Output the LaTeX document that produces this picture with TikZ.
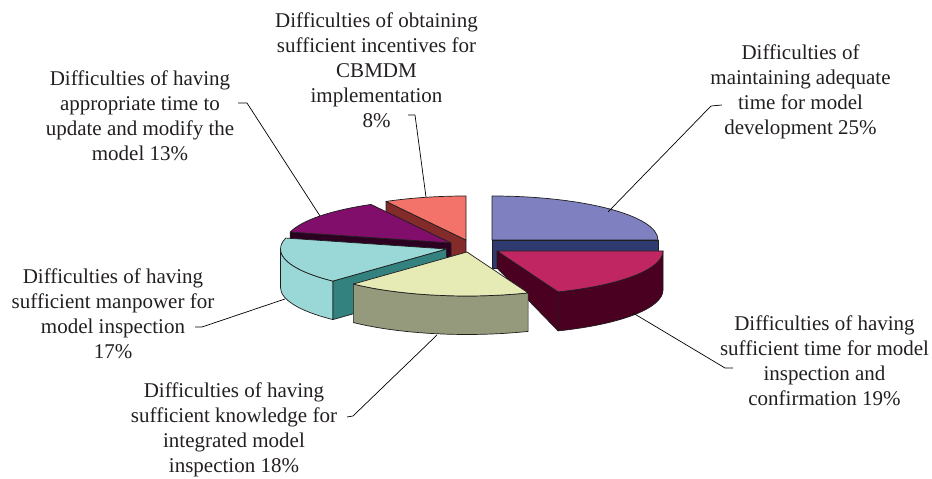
\documentclass[tikz,border=0pt]{standalone}
\usepackage{fontspec}
\setmainfont{Liberation Serif}
\definecolor{blueTop}{HTML}{7F80BF}
\definecolor{blueSide}{HTML}{2F3B70}
\definecolor{crimTop}{HTML}{BF2662}
\definecolor{crimSide}{HTML}{4A0020}
\definecolor{yelTop}{HTML}{E6EBB5}
\definecolor{yelSide}{HTML}{959A7C}
\definecolor{cyanTop}{HTML}{9AD7D7}
\definecolor{cyanSide}{HTML}{348280}
\definecolor{purTop}{HTML}{800E6A}
\definecolor{purSide}{HTML}{2C0020}
\definecolor{salTop}{HTML}{F3726A}
\definecolor{salSide}{HTML}{832A2B}
\definecolor{edgecol}{HTML}{1E1E1E}
\definecolor{txt}{HTML}{231F20}
\begin{document}
\begin{tikzpicture}[x=1pt,y=1pt,
  face/.style={draw=edgecol,line width=0.7pt,line join=round},
  er/.style={x radius=166pt,y radius=44pt},
  lbl/.style={align=center,font=\fontsize{21}{25}\selectfont,text=txt,inner sep=0pt},
  leader/.style={draw=black,line width=0.7pt}]
\useasboundingbox (0,0) rectangle (932,479);

% ---- blue 25% (back right)
\fill[blueSide,face] (492,239) rectangle (658,211);
\fill[blueTop,face] (492,239) -- (492,283) arc[er,start angle=90,end angle=0] -- cycle;

% ---- salmon 8%
\fill[salSide,face] (386.02,277.56) -- (466,239) -- (466,200) -- (386.02,238.56) -- cycle;
\fill[salTop,face] (466,239) -- (466,283) arc[er,start angle=90,end angle=118.8] -- cycle;

% ---- purple 13%
\fill[purSide,face] (451,236) -- (290.2,246.94) -- (290.2,207.94) -- (451,197) -- cycle;
\fill[purTop,face] (451,236) -- (371.02,274.56) arc[er,start angle=118.8,end angle=165.6] -- cycle;

% ---- cyan 17%
\fill[cyanTop,face] (280.5,230) arc[er,start angle=180,end angle=226.8] -- ++(0,-38.5) arc[er,start angle=226.8,end angle=180] -- cycle;
\fill[cyanSide,face] (446.5,230) -- (332.9,197.92) -- (332.9,159.42) -- (446.5,191.5) -- cycle;
\fill[cyanTop,face] (446.5,230) -- (285.7,240.94) arc[er,start angle=165.6,end angle=226.8] -- cycle;

% ---- crimson 19%
\fill[crimSide,face] (663,228) arc[er,start angle=0,end angle=-68.4] -- ++(0,-39) arc[er,start angle=-68.4,end angle=0] -- cycle;
\fill[crimSide,face] (497,228) -- (558.1,187.1) -- (558.1,148.1) -- (497,211) -- cycle;
\fill[crimTop,face] (497,228) -- (663,228) arc[er,start angle=0,end angle=-68.4] -- cycle;

% ---- yellow 18%
\fill[yelSide,face] (528.1,186.1) arc[er,start angle=-68.4,end angle=-133.2] -- ++(0,-38.5) arc[er,start angle=-133.2,end angle=-68.4] -- cycle;
\fill[yelTop,face] (467,227) -- (528.1,186.1) arc[er,start angle=-68.4,end angle=-133.2] -- cycle;

% ---- labels
\node[lbl] (lObt) at (376.5,409) {Difficulties of obtaining\\sufficient incentives for\\CBMDM\\implementation\\8\%};
\node[lbl] (lApp) at (140,363.5) {Difficulties of having\\appropriate time to\\update and modify the\\model 13\%};
\node[lbl] (lMai) at (800.5,387) {Difficulties of\\maintaining adequate\\time for model\\development 25\%};
\node[lbl] (lTim) at (824.5,118) {Difficulties of having\\sufficient time for model\\inspection and\\confirmation 19\%};
\node[lbl] (lMan) at (113,165.5) {Difficulties of having\\sufficient manpower for\\model inspection\\17\%};
\node[lbl] (lKno) at (234,49) {Difficulties of having\\sufficient knowledge for\\integrated model\\inspection 18\%};

% ---- leader points
\coordinate (tObt) at (408,364); \coordinate (cObt) at (415,364); \coordinate (pObt) at (426,282);
\coordinate (tApp) at (238,376); \coordinate (cApp) at (247,376); \coordinate (pApp) at (320,263);
\coordinate (tMai) at (722,374); \coordinate (cMai) at (711,373); \coordinate (pMai) at (608,267);
\coordinate (tTim) at (733,111); \coordinate (cTim) at (725,111); \coordinate (pTim) at (633,166);
\coordinate (tMan) at (195,152); \coordinate (cMan) at (202,152); \coordinate (pMan) at (285,180);
\coordinate (tKno) at (347,62);  \coordinate (cKno) at (353,63);  \coordinate (pKno) at (437,144);

\draw[leader] (tObt) -- (cObt) -- (pObt);
\draw[leader] (tApp) -- (cApp) -- (pApp);
\draw[leader] (tMai) -- (cMai) -- (pMai);
\draw[leader] (tTim) -- (cTim) -- (pTim);
\draw[leader] (tMan) -- (cMan) -- (pMan);
\draw[leader] (tKno) -- (cKno) -- (pKno);
\end{tikzpicture}
\end{document}
